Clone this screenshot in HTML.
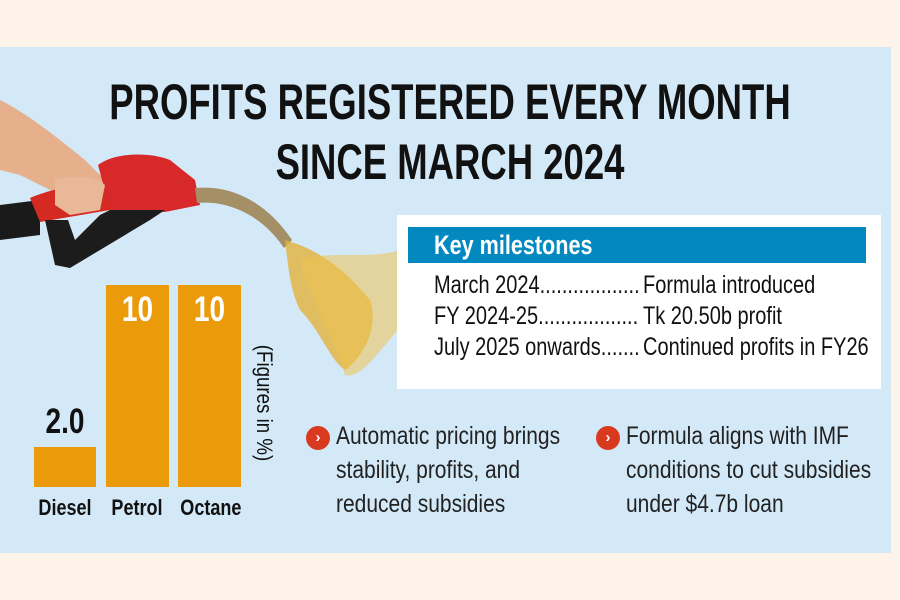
<!DOCTYPE html>
<html><head><meta charset="utf-8"><style>
*{margin:0;padding:0;box-sizing:border-box}
body{width:900px;height:600px;background:#fdf3e8;position:relative;overflow:hidden;font-family:"Liberation Sans",sans-serif}
.panel{position:absolute;left:0;top:47px;width:891px;height:506px;background:#d4e9f8}
.abs{position:absolute;white-space:nowrap}
.tl{position:absolute;left:-100px;width:1100px;white-space:nowrap;text-align:center;font-weight:bold;font-size:50px;color:#111;line-height:60px;transform:scaleX(0.73);transform-origin:550px 0}
.bar{position:absolute;background:#eb9a0a}
.lbl{font-weight:bold;font-size:22px;color:#111;transform:scaleX(0.82)}
.box{position:absolute;left:397px;top:215px;width:484px;height:174px;background:#fff}
.hdr{position:absolute;left:408px;top:227px;width:458px;height:36px;background:#0389bf}
.hdrt{position:absolute;left:434px;top:227px;color:#fff;font-weight:bold;font-size:27px;line-height:36px;transform:scaleX(0.8);transform-origin:0 0}
.ms{font-size:25px;color:#111;line-height:31px;top:270px;transform:scaleX(0.8);transform-origin:0 0}
.bt{font-size:25px;color:#222;line-height:34px;left:336px;top:419px;transform:scaleX(0.84);transform-origin:0 0}
.dot{position:absolute;width:24px;height:24px;border-radius:50%;background:#d93a1f;color:#fff;font-size:15px;font-weight:bold;text-align:center;line-height:24px}
.lc{position:absolute;left:434px;top:270px;width:205px;overflow:hidden;height:95px}
</style></head><body>
<div class="panel"></div>
<svg class="abs" style="left:0;top:0" width="420" height="400">
 <path d="M0 100 C30 115 60 140 85 160 L105 180 L70 200 L20 175 L0 170Z" fill="#e7b08c"/>
 <path d="M0 205 L40 200 L40 235 L0 240Z" fill="#1a1a1a"/>
 <path d="M30 198 C60 185 100 182 110 185 L110 210 L40 222Z" fill="#d42a22"/>
 <path d="M98 165 C115 152 150 152 170 160 L195 180 L200 205 L165 212 L110 210Z" fill="#d8292a"/>
 <path d="M45 220 L55 265 L70 268 L150 220 L165 210 L110 210 L100 215 L75 240 L68 220Z" fill="#1c1c1c"/>
 <path d="M55 180 C70 175 95 175 105 185 L100 210 L70 215 L55 205Z" fill="#e9b899"/>
 <path d="M195 188 C230 185 265 200 292 240 L284 248 C262 215 228 200 197 203Z" fill="#a58f66"/>
 <path d="M285 240 C320 250 345 270 370 300 C380 330 360 360 345 370 C330 360 320 330 300 310 C290 290 288 265 285 240Z" fill="#e2b13a" opacity="0.8"/>
 <path d="M300 260 C330 250 370 260 400 250 L398 330 C380 350 360 380 345 375 C335 340 310 300 300 260Z" fill="#edc350" opacity="0.55"/>
</svg>
<div class="tl" style="top:72px">PROFITS REGISTERED EVERY MONTH</div>
<div class="tl" style="top:132px">SINCE MARCH 2024</div>
<div class="bar" style="left:34px;top:447px;width:62px;height:40px"></div>
<div class="bar" style="left:106px;top:285px;width:63px;height:202px"></div>
<div class="bar" style="left:178px;top:285px;width:63px;height:202px"></div>
<div class="abs" style="left:34px;top:402px;width:62px;text-align:center;font-weight:bold;font-size:35px;color:#111;transform:scaleX(0.8)">2.0</div>
<div class="abs" style="left:106px;top:290px;width:63px;text-align:center;font-weight:bold;font-size:35px;color:#fff;transform:scaleX(0.8)">10</div>
<div class="abs" style="left:178px;top:290px;width:63px;text-align:center;font-weight:bold;font-size:35px;color:#fff;transform:scaleX(0.8)">10</div>
<div class="abs lbl" style="left:30px;top:495px;width:70px;text-align:center">Diesel</div>
<div class="abs lbl" style="left:102px;top:495px;width:70px;text-align:center">Petrol</div>
<div class="abs lbl" style="left:174px;top:495px;width:70px;text-align:center">Octane</div>
<div class="abs" style="left:184px;top:390px;width:160px;text-align:center;font-size:22px;color:#111;transform:rotate(90deg) scaleX(0.85)">(Figures in %)</div>
<div class="box"></div>
<div class="hdr"></div>
<div class="hdrt">Key milestones</div>
<div class="lc"><div class="abs ms" style="left:0;top:0">March 2024...............................<br>FY 2024-25...............................<br>July 2025 onwards...............................</div></div>
<div class="abs ms" style="left:643px">Formula introduced<br>Tk 20.50b profit<br>Continued profits in FY26</div>
<div class="dot" style="left:306px;top:426px">›</div>
<div class="abs bt">Automatic pricing brings<br>stability, profits, and<br>reduced subsidies</div>
<div class="dot" style="left:596px;top:426px">›</div>
<div class="abs bt" style="left:626px">Formula aligns with IMF<br>conditions to cut subsidies<br>under $4.7b loan</div>
</body></html>
